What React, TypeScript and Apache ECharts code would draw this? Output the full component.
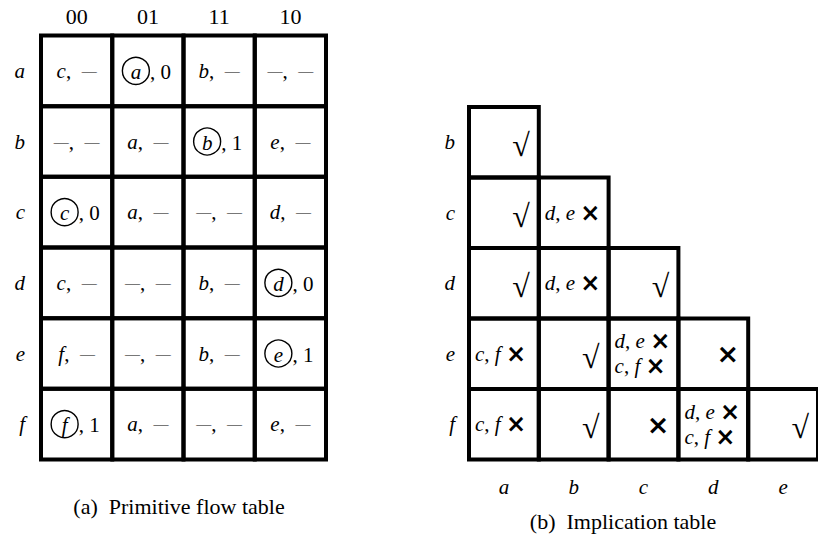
import React, { useEffect, useRef } from "react";
import * as echarts from "echarts";

// ---------- Data ----------
const flowRows = ["a", "b", "c", "d", "e", "f"];
const flowCols = ["00", "01", "11", "10"];
const nextStates = [
  ["c", "a", "b", "-"],
  ["-", "a", "b", "e"],
  ["c", "a", "-", "d"],
  ["c", "-", "b", "d"],
  ["f", "-", "b", "e"],
  ["f", "a", "-", "e"],
];
const outputs = [
  ["-", "0", "-", "-"],
  ["-", "-", "1", "-"],
  ["0", "-", "-", "-"],
  ["-", "-", "-", "0"],
  ["-", "-", "-", "1"],
  ["1", "-", "-", "-"],
];

const implRows = ["b", "c", "d", "e", "f"];
const implCols = ["a", "b", "c", "d", "e"];
// implied pairs per cell (lower triangle)
const implPairs = [
  [[]],
  [[], [["d", "e"]]],
  [[], [["d", "e"]], []],
  [[["c", "f"]], [], [["d", "e"], ["c", "f"]], []],
  [[["c", "f"]], [], [], [["d", "e"], ["c", "f"]], []],
];
const implCompatible = [
  [true],
  [true, false],
  [true, false, true],
  [false, true, false, false],
  [false, true, false, false, true],
];

const captionA = "(a)  Primitive flow table";
const captionB = "(b)  Implication table";

// ---------- Styles ----------
const SERIF = '"Liberation Serif", "Times New Roman", serif';
const SANS = '"DejaVu Sans", sans-serif';
const FS = 21;
const BORDER = 4;

const rich = {
  i: { fontFamily: SERIF, fontStyle: "italic", fontSize: FS, lineHeight: 22, fill: "#000", color: "#000" },
  n: { fontFamily: SERIF, fontSize: FS, lineHeight: 22, fill: "#000", color: "#000" },
  d: { fontFamily: SERIF, fontSize: 15, lineHeight: 22, fill: "#000", color: "#000" },
  x: { fontFamily: SANS, fontWeight: "bold", fontSize: 24, lineHeight: 22, fill: "#000", color: "#000" },
  X: { fontFamily: SANS, fontWeight: "bold", fontSize: 27, lineHeight: 26, fill: "#000", color: "#000" },
};

const DASH = "{d|—}";
const sym = (s: string) => (s === "-" ? DASH : "{i|" + s + "}");
const outTxt = (s: string) => (s === "-" ? DASH : "{n|" + s + "}");

function textEl(x: number, y: number, text: string, align: string, vAlign = "middle") {
  return {
    type: "text",
    style: {
      x,
      y,
      text,
      rich,
      align,
      verticalAlign: vAlign,
      textAlign: align,
      textVerticalAlign: vAlign,
      fill: "#000",
    },
  };
}

export default function App() {
  const ref = useRef<HTMLDivElement>(null);

  useEffect(() => {
    if (!ref.current) return;
    const chart = echarts.init(ref.current, undefined, { renderer: "svg" });

    const flowData: number[][] = [];
    flowRows.forEach((_, r) => flowCols.forEach((_, c) => flowData.push([c, r])));

    const implData: number[][] = [];
    implRows.forEach((_, r) => {
      for (let c = 0; c <= r; c++) implData.push([c, r]);
    });

    const cellRect = (x: number, y: number, w: number, h: number) => ({
      type: "rect",
      shape: { x: x - w / 2, y: y - h / 2, width: w, height: h },
      style: { fill: "none", stroke: "#000", lineWidth: BORDER },
    });

    const renderFlow = (params: any, api: any) => {
      const c = api.value(0);
      const r = api.value(1);
      const [cx, cy] = api.coord([c, r]);
      const [w, h] = api.size([1, 1]);
      const nxt = nextStates[r][c];
      const out = outputs[r][c];
      const children: any[] = [cellRect(cx, cy, w, h)];
      if (nxt === flowRows[r]) {
        const ccx = cx - 12;
        children.push({
          type: "circle",
          shape: { cx: ccx, cy: cy, r: 13.5 },
          style: { fill: "none", stroke: "#000", lineWidth: 1.4 },
        });
        children.push(textEl(ccx, cy + 1, sym(nxt), "center"));
        children.push(textEl(ccx + 14, cy + 1, "{n|, }" + outTxt(out), "left"));
      } else {
        children.push(textEl(cx, cy, sym(nxt) + "{n|,  }" + outTxt(out), "center"));
      }
      return { type: "group", children };
    };

    const renderImpl = (params: any, api: any) => {
      const c = api.value(0);
      const r = api.value(1);
      const [cx, cy] = api.coord([c, r]);
      const [w, h] = api.size([1, 1]);
      const pairs = implPairs[r][c];
      const ok = implCompatible[r][c];
      const children: any[] = [cellRect(cx, cy, w, h)];
      const left = cx - w / 2 + 6;
      const right = cx + w / 2 - 9;
      if (pairs.length === 0) {
        if (ok) {
          children.push({
            type: "text",
            style: {
              x: right,
              y: cy + 3,
              text: "√",
              font: "32px " + SERIF,
              align: "right",
              verticalAlign: "middle",
              textAlign: "right",
              textVerticalAlign: "middle",
              fill: "#000",
            },
          });
        } else {
          children.push(textEl(right, cy, "{X|×}", "right"));
        }
      } else {
        const lh = 25;
        const y0 = cy - ((pairs.length - 1) * lh) / 2;
        pairs.forEach((p: string[], k: number) => {
          children.push(
            textEl(left, y0 + k * lh, "{i|" + p[0] + "}{n|, }{i|" + p[1] + "}{n| }{x|×}", "left")
          );
        });
      }
      return { type: "group", children };
    };

    const axisCommon = {
      type: "category",
      axisLine: { show: false },
      axisTick: { show: false },
      splitLine: { show: false },
    };

    chart.setOption({
      animation: false,
      backgroundColor: "#fff",
      title: [
        {
          text: captionA,
          left: 174,
          top: 490,
          textAlign: "center",
          textStyle: { fontFamily: SERIF, fontSize: 22, fontWeight: "normal", color: "#000" },
        },
        {
          text: captionB,
          left: 618,
          top: 505,
          textAlign: "center",
          textStyle: { fontFamily: SERIF, fontSize: 22, fontWeight: "normal", color: "#000" },
        },
      ],
      grid: [
        { left: 41, top: 35.5, width: 285, height: 424 },
        { left: 469, top: 107, width: 356, height: 352.5 },
      ],
      xAxis: [
        {
          ...axisCommon,
          gridIndex: 0,
          position: "top",
          data: flowCols,
          axisLabel: { margin: 8, fontFamily: SERIF, fontSize: 22, color: "#000" },
        },
        {
          ...axisCommon,
          gridIndex: 1,
          position: "bottom",
          data: implCols,
          axisLabel: {
            margin: 17,
            fontFamily: SERIF,
            fontStyle: "italic",
            fontSize: 21,
            color: "#000",
          },
        },
      ],
      yAxis: [
        {
          ...axisCommon,
          gridIndex: 0,
          inverse: true,
          data: flowRows,
          axisLabel: {
            margin: 16,
            fontFamily: SERIF,
            fontStyle: "italic",
            fontSize: 21,
            color: "#000",
          },
        },
        {
          ...axisCommon,
          gridIndex: 1,
          inverse: true,
          data: implRows,
          axisLabel: {
            margin: 14,
            fontFamily: SERIF,
            fontStyle: "italic",
            fontSize: 21,
            color: "#000",
          },
        },
      ],
      series: [
        {
          type: "custom",
          xAxisIndex: 0,
          yAxisIndex: 0,
          data: flowData,
          renderItem: renderFlow,
          silent: true,
        },
        {
          type: "custom",
          xAxisIndex: 1,
          yAxisIndex: 1,
          data: implData,
          renderItem: renderImpl,
          silent: true,
        },
      ],
    });

    return () => chart.dispose();
  }, []);

  return (
    <div
      ref={ref}
      style={{ position: "absolute", left: 0, top: 0, width: 818, height: 540, background: "#fff" }}
    />
  );
}
